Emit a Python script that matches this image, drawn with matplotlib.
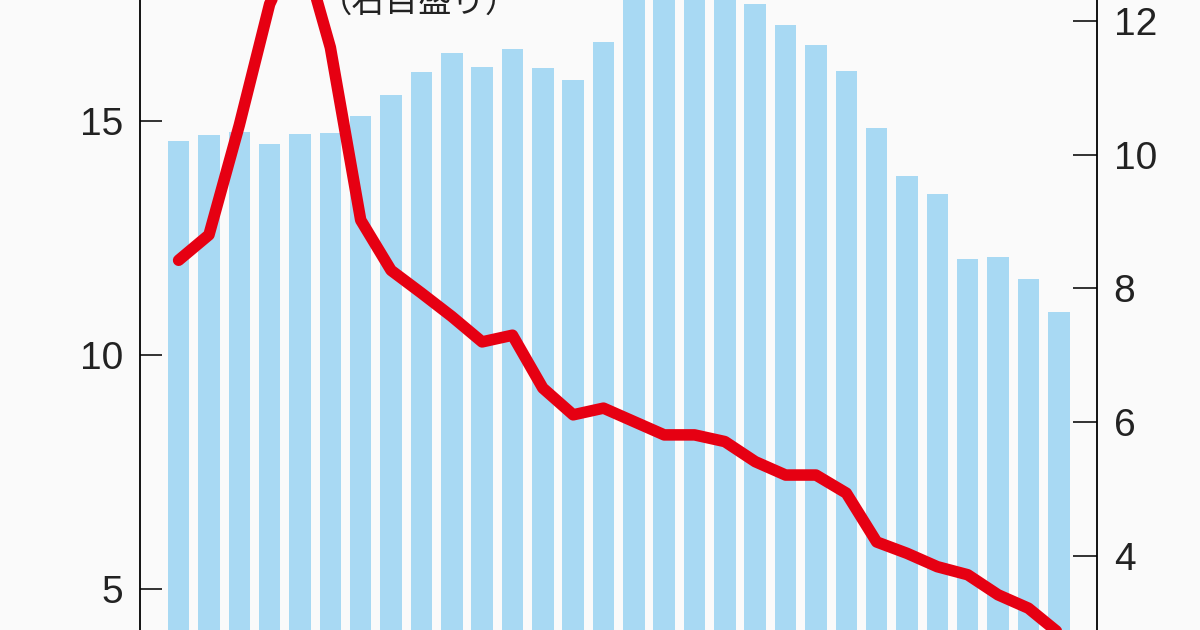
import numpy as np
import matplotlib
matplotlib.use("Agg")
import matplotlib.pyplot as plt
from matplotlib import font_manager

# ---- data ----
bar_values = [14.57, 14.69, 14.75, 14.50, 14.71, 14.74, 15.10, 15.56, 16.04, 16.45,
              16.15, 16.53, 16.13, 15.88, 16.68, 17.90, 18.00, 18.00, 17.90, 17.49,
              17.05, 16.61, 16.07, 14.85, 13.81, 13.43, 12.04, 12.09, 11.62, 10.91]
line_values = [8.42, 8.80, 10.44, 12.25, 13.20, 11.60, 9.02, 8.27, 7.93, 7.58,
               7.20, 7.30, 6.51, 6.11, 6.21, 6.01, 5.81, 5.81, 5.71, 5.41,
               5.21, 5.21, 4.94, 4.21, 4.04, 3.84, 3.72, 3.42, 3.22, 2.85]
left_ticks = [5, 10, 15]
right_ticks = [4, 6, 8, 10, 12]
note_text = "（右目盛り）"

# ---- fonts ----
avail = {f.name for f in font_manager.fontManager.ttflist}
num_font = "Liberation Sans Narrow" if "Liberation Sans Narrow" in avail else "Liberation Sans"
cjk = ["Noto Sans CJK JP", "DejaVu Sans"]

W, H = 1200, 630
fig = plt.figure(figsize=(12, 6.3), dpi=100)
bg = "#fafafa"
fig.patch.set_facecolor(bg)

x_left, x_right = 140, 1097
ax = fig.add_axes([x_left / W, 0, (x_right - x_left) / W, 1])
ax.set_facecolor("none")
ax2 = ax.twinx()

x = np.arange(len(bar_values))
ax.bar(x, bar_values, width=0.71, color="#a8d9f3", zorder=1)
ax2.plot(x, line_values, color="#e60012", lw=8.3, solid_joinstyle="round",
         solid_capstyle="round", zorder=3)

ax.set_xlim(-1.272, 30.26)
ax.set_ylim(4.118, 17.58)
ax2.set_ylim(2.894, 12.31)

for a in (ax, ax2):
    a.spines["top"].set_visible(False)
    a.spines["bottom"].set_visible(False)
    a.set_xticks([])

ax.spines["right"].set_visible(False)
ax2.spines["left"].set_visible(False)
ax.spines["left"].set_linewidth(1.3)
ax2.spines["right"].set_linewidth(1.3)

ax.set_yticks(left_ticks)
ax.set_yticklabels([str(t) for t in left_ticks])
ax.tick_params(axis="y", direction="in", length=16, width=1.3, pad=12,
               labelsize=28, colors="#222222")
ax2.set_yticks(right_ticks)
ax2.set_yticklabels([str(t) for t in right_ticks])
ax2.tick_params(axis="y", direction="in", length=17, width=1.3, pad=12,
                labelsize=28, colors="#222222")
for lab in ax.get_yticklabels() + ax2.get_yticklabels():
    lab.set_fontfamily(num_font)

fig.text(419 / W, 1 - 12 / H, note_text, ha="center", va="baseline",
         fontsize=24, family=cjk, color="#222222")

fig.savefig("out.png", dpi=100, facecolor=bg)
